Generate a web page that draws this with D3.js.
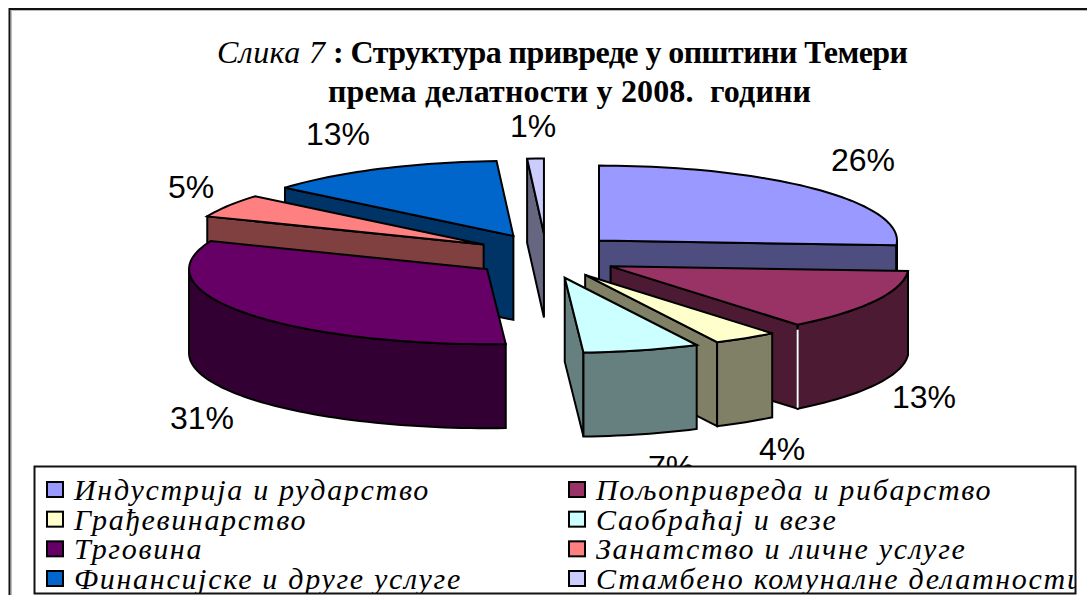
<!DOCTYPE html>
<html><head><meta charset="utf-8">
<script src="https://cdn.jsdelivr.net/npm/d3@7"></script>
<style>html,body{margin:0;padding:0;background:#fff;overflow:hidden}svg{display:block}</style>
</head><body><div id="c"></div>
<script>
const categories=["Индустрија и рударство","Пољопривреда и рибарство","Грађевинарство","Саобраћај и везе","Трговина","Занатство и личне услуге","Финансијске и друге услуге","Стамбено комуналне делатности"];
const values=[26,13.2,3.5,6.3,32.1,5,13,0.9];
const percentLabels=["26%","13%","4%","7%","31%","5%","13%","1%"];
const colors=["#9999FF","#993366","#FFFFCC","#CCFFFF","#660066","#FF8080","#0066CC","#CCCCFF"];
const paintOrder=[7,6,5,4,0,1,2,3];
const labelPos=[[863,171],[924,408],[782,460],[671,478],[202,429],[191,198],[338,145],[533,137]];
const W=1087,H=595;
const svg=d3.select("#c").append("svg").attr("width",W).attr("height",H);
// frame
svg.append("path").attr("d",`M11.5,${H}V10.5H${W}`).attr("fill","none").attr("stroke","#bbb").attr("stroke-width",1);
svg.append("path").attr("d",`M9.5,${H}V9H${W}`).attr("fill","none").attr("stroke","#111").attr("stroke-width",2);
// projection of the tilted unit disc
const x=d3.scaleLinear().domain([-1,1]).range([546-298,546+298]);
const y=d3.scaleLinear().domain([-1,1]).range([256-75,256+75]);
const depth=84,exX=0.244,exY=0.3;
const pie=d3.pie().value(d=>d).sort(null);
const arcs=pie(values);
const lineGen=d3.line();
function apex(a){const m=(a.startAngle+a.endAngle)/2;return [exX*Math.sin(m),-exY*Math.cos(m)];}
function pt(a,t,r=1,dz=0){const o=apex(a);return [x(o[0]+r*Math.sin(t)),y(o[1]-r*Math.cos(t))+dz];}
function samples(t0,t1){const n=Math.max(2,Math.ceil((t1-t0)/0.03));return d3.range(n+1).map(i=>t0+(t1-t0)*i/n);}
const dark=c=>{const r=d3.rgb(c);return d3.rgb(r.r/2,r.g/2,r.b/2).formatHex();};
const pieG=svg.append("g").attr("stroke","#000").attr("stroke-width",2).attr("stroke-linejoin","miter");
paintOrder.forEach(i=>{
  const a=arcs[i],g=pieG.append("g"),s=a.startAngle,e=a.endAngle,side=dark(colors[i]);
  const cut=t=>[pt(a,t,0),pt(a,t),pt(a,t,1,depth),pt(a,t,0,depth)];
  if(s>Math.PI) g.append("path").attr("d",lineGen(cut(s))+"Z").attr("fill",side);
  if(e<Math.PI) g.append("path").attr("d",lineGen(cut(e))+"Z").attr("fill",side);
  const v0=Math.max(s,Math.PI/2),v1=Math.min(e,3*Math.PI/2);
  if(v1>v0){
    const ts=samples(v0,v1);
    const poly=ts.map(t=>pt(a,t)).concat(ts.slice().reverse().map(t=>pt(a,t,1,depth)));
    g.append("path").attr("d",lineGen(poly)+"Z").attr("fill",side);
  }
  const top=[pt(a,s,0)].concat(samples(s,e).map(t=>pt(a,t)));
  g.append("path").attr("d",lineGen(top)+"Z").attr("fill",colors[i]);
  // thin light seam between the cut face and the rim of the second slice
  if(i===1) g.append("path").attr("d",lineGen([pt(a,e,1,5),pt(a,e,1,depth-1)])).attr("stroke","#fff").attr("stroke-width",2);
});
// percent labels
svg.append("g").selectAll("text").data(percentLabels).join("text")
 .attr("x",(d,i)=>labelPos[i][0]).attr("y",(d,i)=>labelPos[i][1]).attr("text-anchor","middle")
 .attr("font-family","Liberation Sans").attr("font-size",32).attr("fill","#000").text(d=>d);
// title
const serif="Liberation Serif";
svg.append("text").attr("x",217).attr("y",63).attr("font-family",serif).attr("font-size",32).attr("font-style","italic").attr("textLength",108).attr("lengthAdjust","spacing").text("Слика 7");
svg.append("text").attr("x",333).attr("y",63).attr("font-family",serif).attr("font-size",32).attr("font-weight","bold").attr("textLength",575).attr("lengthAdjust","spacing").text(": Структура привреде у општини Темери");
svg.append("text").attr("x",328).attr("y",102).attr("font-family",serif).attr("font-size",32).attr("font-weight","bold").attr("textLength",483).attr("lengthAdjust","spacing").style("white-space","pre").text("према делатности у 2008.  години");
// legend
svg.append("rect").attr("x",34.5).attr("y",466.5).attr("width",1041).attr("height",127).attr("fill","#fff").attr("stroke","#111").attr("stroke-width",2);
svg.append("clipPath").attr("id","lc").append("rect").attr("x",35).attr("y",466).attr("width",1040).attr("height",127);
const rowY=d3.scalePoint().domain(d3.range(4)).range([500,589]);
const colX=d3.scalePoint().domain([0,1]).range([47,569]);
const lg=svg.append("g").attr("clip-path","url(#lc)");
categories.forEach((c,i)=>{
  const r=Math.floor(i/2),k=i%2;
  lg.append("rect").attr("x",colX(k)).attr("y",rowY(r)-18).attr("width",16).attr("height",15).attr("fill",colors[i]).attr("stroke","#000").attr("stroke-width",2);
  lg.append("text").attr("x",colX(k)+27).attr("y",rowY(r)).attr("font-family",serif).attr("font-style","italic").attr("font-size",30).attr("letter-spacing",1.7).attr("fill","#000").text(c);
});
</script></body></html>
